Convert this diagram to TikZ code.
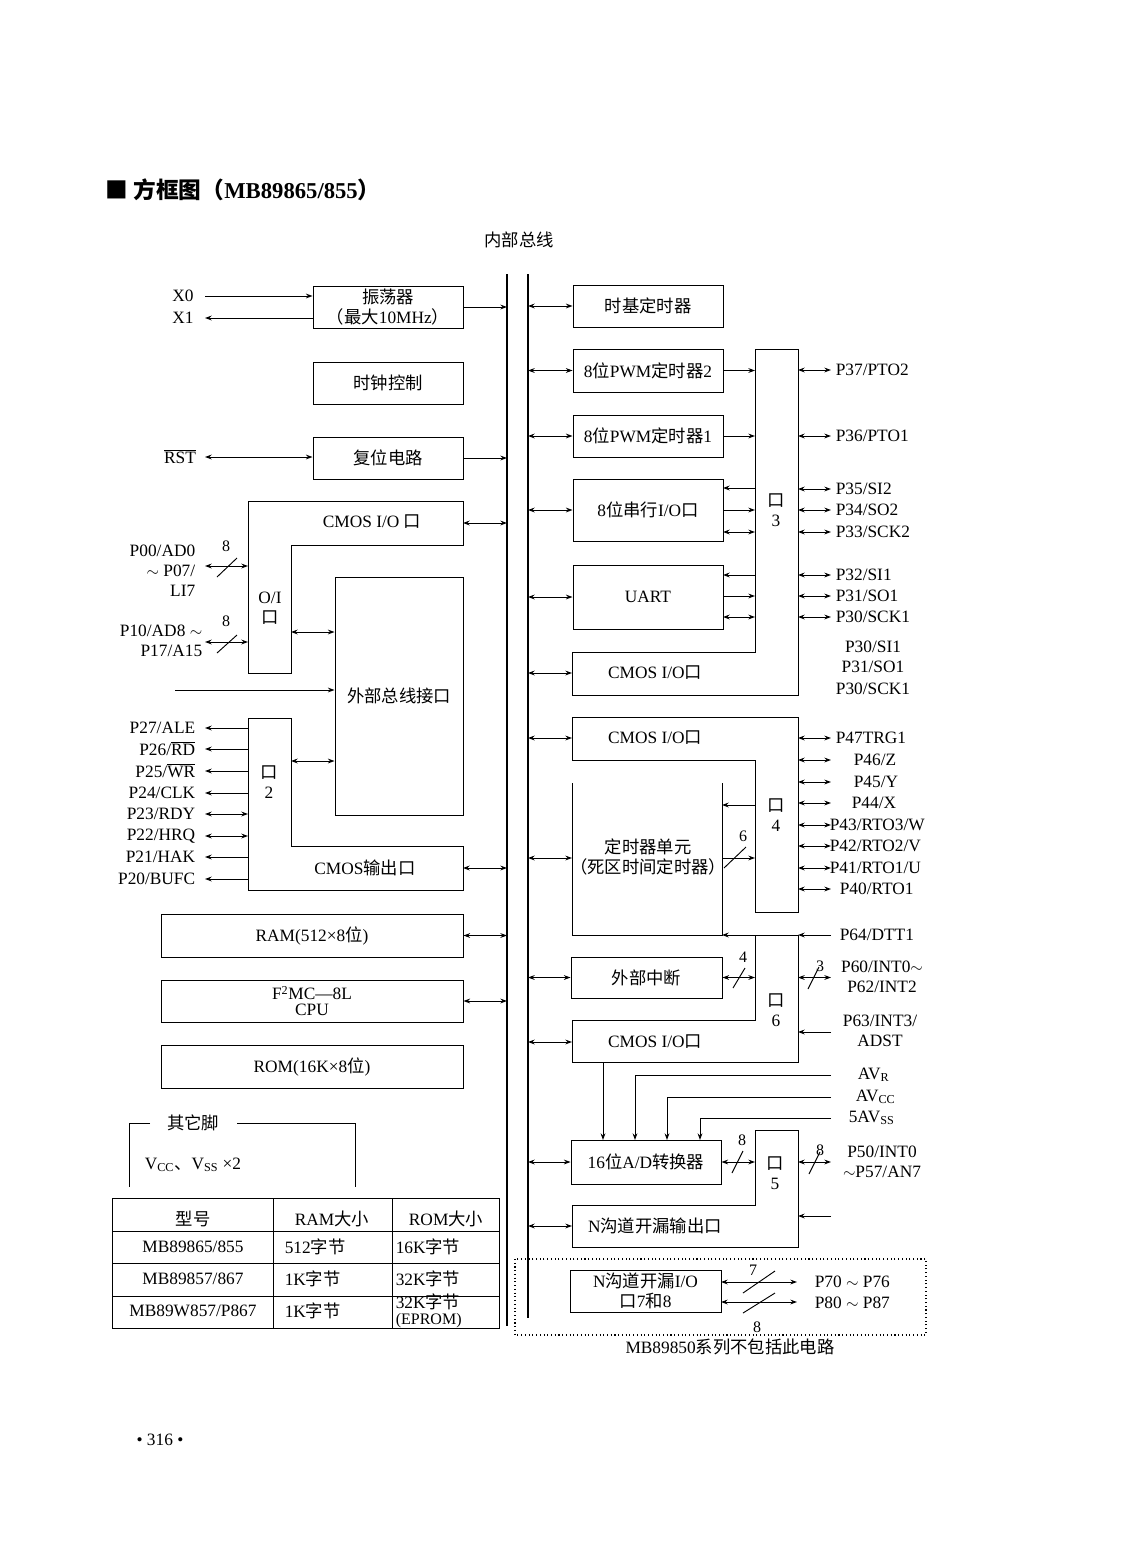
\documentclass[tikz,border=0pt]{standalone}
\usepackage{fontspec}
\setmainfont{Liberation Serif}
\newfontfamily\cjk{Noto Sans CJK SC}
\newcommand\zh[1]{{\cjk #1}}
\newcommand\fs{\fontsize{13pt}{15pt}\selectfont}
\usetikzlibrary{arrows.meta}
\begin{document}
\begin{tikzpicture}[x=0.75pt,y=-0.75pt,line width=0.7pt,
  >={Stealth[length=5pt,width=3.6pt]},
  every node/.style={inner sep=1pt,font=\fs,align=center},
  blk/.style 2 args={draw,inner sep=0pt,minimum width=#1*0.75pt,minimum height=#2*0.75pt,align=center},
  zhs/.style={font=\fs\cjk},
  rpin/.style={anchor=west},
  lpin/.style={anchor=east,align=right},
  bus/.style={line width=0.8pt},
  num/.style={font=\fontsize{12pt}{13pt}\selectfont,inner sep=0pt}
]
\useasboundingbox (0,0) rectangle (1122,1568);
% ---------- title ----------
\node[anchor=west,font=\fontsize{17pt}{20pt}\selectfont\bfseries] (title) at (104,190) {\zh{■ 方框图（}MB89865/855\zh{）}};
\node[zhs] (busname) at (519,240) {内部总线};
% ---------- internal bus ----------
\coordinate (busLt) at (507,274); \coordinate (busLb) at (507,1326);
\coordinate (busRt) at (528,274); \coordinate (busRb) at (528,1318);
\draw[bus] (busLt) -- (busLb);
\draw[bus] (busRt) -- (busRb);
\coordinate (lpE) at (205,0);
\coordinate (pinE) at (831,0);
% ---------- left column ----------
\node[blk={150}{42}] (osc) at (388,307) {\zh{振荡器}\\\zh{（最大}10MHz\zh{）}};
\node[blk={150}{42},zhs] (clk) at (388,383) {时钟控制};
\node[blk={150}{42},zhs] (rst) at (388,458) {复位电路};
\node (x0) at (183,296) {X0};
\node (x1) at (183,318) {X1};
\node (rstp) at (180,457) {$\overline{\mbox{RST}}$};
\draw[->] (x0.east -| lpE) -- (x0.east -| osc.west);
\draw[->] (x1.east -| osc.west) -- (x1.east -| lpE);
\draw[<->] (rstp.east -| lpE) -- (rstp.east -| rst.west);
\draw[->] (osc.east) -- (osc.east -| busLt);
\draw[->] (rst.east) -- (rst.east -| busLt);
% CMOS I/O + O/I port
\draw (248,501) -- (463,501) -- (463,545) -- (291,545) -- (291,673) -- (248,673) -- cycle;
\node (cio1) at (372,522) {CMOS I/O \zh{口}};
\node (oi) at (270,608) {O/I\\\zh{口}};
\coordinate (cio1R) at (463,523);
\draw[<->] (cio1R) -- (cio1R -| busLt);
\coordinate (oiL) at (248,0);
\node[lpin] (p0) at (197,571) {P00/AD0\\$\sim$ P07/\\LI7};
\coordinate (oiA) at (248,566);
\draw[<->] (oiA) -- (oiA -| lpE);
\draw (217,577) -- (237,558);
\node[num] (n8a) at (226,546) {8};
\node[lpin] (p1) at (204,641) {P10/AD8 $\sim$\\P17/A15};
\coordinate (oiB) at (248,642);
\draw[<->] (oiB) -- (oiB -| lpE);
\draw (217,653) -- (237,635);
\node[num] (n8b) at (226,621) {8};
% external bus interface
\node[blk={128}{238},zhs] (ebi) at (399,696) {外部总线接口};
\coordinate (oiR) at (291,632);
\draw[<->] (oiR) -- (oiR -| ebi.west);
\coordinate (extin) at (175,690);
\draw[->] (extin) -- (extin -| ebi.west);
% port 2 + CMOS output
\draw (248,718) -- (291,718) -- (291,846) -- (463,846) -- (463,890) -- (248,890) -- cycle;
\node (p2) at (269,782) {\zh{口}\\2};
\node (cout) at (365,868) {CMOS\zh{输出口}};
\coordinate (p2R) at (291,761);
\draw[<->] (p2R) -- (p2R -| ebi.west);
\coordinate (coutR) at (463,868);
\draw[<->] (coutR) -- (coutR -| busLt);
\coordinate (p2L) at (248,0);
\node[lpin] (p27) at (197,728) {P27/ALE};
\node[lpin] (p26) at (197,749) {P26/$\overline{\mbox{RD}}$};
\node[lpin] (p25) at (197,771) {P25/$\overline{\mbox{WR}}$};
\node[lpin] (p24) at (197,793) {P24/CLK};
\node[lpin] (p23) at (197,814) {P23/RDY};
\node[lpin] (p22) at (197,836) {P22/HRQ};
\node[lpin] (p21) at (197,857) {P21/HAK};
\node[lpin] (p20) at (197,879) {P20/BUFC};
\draw[->] (p27.east -| p2L) -- (p27.east -| lpE);
\draw[->] (p26.east -| p2L) -- (p26.east -| lpE);
\draw[->] (p25.east -| p2L) -- (p25.east -| lpE);
\draw[->] (p24.east -| p2L) -- (p24.east -| lpE);
\draw[<->] (p23.east -| p2L) -- (p23.east -| lpE);
\draw[<->] (p22.east -| p2L) -- (p22.east -| lpE);
\draw[->] (p21.east -| p2L) -- (p21.east -| lpE);
\draw[->] (p20.east -| p2L) -- (p20.east -| lpE);
% memories and CPU
\node[blk={302}{43}] (ram) at (312,935.5) {RAM(512×8\zh{位})};
\node[blk={302}{42}] (cpu) at (312,1001) {F\textsuperscript{2}MC—8L\\[-3pt]CPU};
\node[blk={302}{43}] (rom) at (312,1066.5) {ROM(16K×8\zh{位})};
\draw[<->] (ram.east) -- (ram.east -| busLt);
\draw[<->] (cpu.east) -- (cpu.east -| busLt);
% other pins
\node[zhs] (other) at (193,1123) {其它脚};
\draw (150,1123) -- (129,1123) -- (129,1187);
\draw (237,1123) -- (355,1123) -- (355,1187);
\node[anchor=west] (vcc) at (143,1165) {V\textsubscript{CC}\zh{、}V\textsubscript{SS} ×2};
% table
\draw (112,1198) rectangle (499,1328);
\draw (112,1231) -- (499,1231);
\draw (112,1263) -- (499,1263);
\draw (112,1296) -- (499,1296);
\draw (273,1198) -- (273,1328);
\draw (392,1198) -- (392,1328);
\node[zhs] (th1) at (193,1219) {型号};
\node (th2) at (332,1219) {RAM\zh{大小}};
\node (th3) at (446,1219) {ROM\zh{大小}};
\node (r1a) at (193,1247) {MB89865/855};
\node[anchor=west] (r1b) at (283,1247) {512\zh{字节}};
\node[anchor=west] (r1c) at (394,1247) {16K\zh{字节}};
\node (r2a) at (193,1279) {MB89857/867};
\node[anchor=west] (r2b) at (283,1279) {1K\zh{字节}};
\node[anchor=west] (r2c) at (394,1279) {32K\zh{字节}};
\node (r3a) at (193,1311) {MB89W857/P867};
\node[anchor=west] (r3b) at (283,1311) {1K\zh{字节}};
\node[anchor=west] (r3c) at (394,1302) {32K\zh{字节}};
\node[anchor=west,font=\fontsize{12pt}{13pt}\selectfont] (r3d) at (394,1321) {(EPROM)};
% ---------- right column ----------
\node[blk={150}{42},zhs] (tbt) at (648,306) {时基定时器};
\draw[<->] (tbt.west -| busRt) -- (tbt.west);
\node[blk={150}{43}] (pwm2) at (648,370.5) {8\zh{位}PWM\zh{定时器}2};
\node[blk={150}{42}] (pwm1) at (648,436) {8\zh{位}PWM\zh{定时器}1};
\node[blk={150}{62}] (sio) at (648,510) {8\zh{位串行}I/O\zh{口}};
\node[blk={150}{64}] (uart) at (648,597) {UART};
\draw[<->] (pwm2.west -| busRt) -- (pwm2.west);
\draw[<->] (pwm1.west -| busRt) -- (pwm1.west);
\draw[<->] (sio.west -| busRt) -- (sio.west);
\draw[<->] (uart.west -| busRt) -- (uart.west);
% port 3 + CMOS I/O
\draw (755,349) -- (798,349) -- (798,695) -- (572,695) -- (572,652) -- (755,652) -- cycle;
\node (p3) at (776,510) {\zh{口}\\3};
\node (cio3) at (655,673) {CMOS I/O\zh{口}};
\coordinate (p3L) at (755,0); \coordinate (p3R) at (798,0);
\coordinate (cio3L) at (572,673);
\draw[<->] (cio3L -| busRt) -- (cio3L);
\draw[->] (pwm2.east) -- (pwm2.east -| p3L);
\draw[->] (pwm1.east) -- (pwm1.east -| p3L);
\coordinate (sioA) at (723,488); \coordinate (sioC) at (723,532);
\draw[->] (sioA -| p3L) -- (sioA);
\draw[->] (sio.east) -- (sio.east -| p3L);
\draw[<->] (sioC) -- (sioC -| p3L);
\coordinate (uaA) at (723,575); \coordinate (uaB) at (723,596); \coordinate (uaC) at (723,617);
\draw[->] (uaA -| p3L) -- (uaA);
\draw[->] (uaB) -- (uaB -| p3L);
\draw[<->] (uaC) -- (uaC -| p3L);
\node[rpin] (p37) at (834,370) {P37/PTO2};
\node[rpin] (p36) at (834,436) {P36/PTO1};
\node[rpin] (p35) at (834,489) {P35/SI2};
\node[rpin] (p34) at (834,510) {P34/SO2};
\node[rpin] (p33) at (834,532) {P33/SCK2};
\node[rpin] (p32) at (834,575) {P32/SI1};
\node[rpin] (p31) at (834,596) {P31/SO1};
\node[rpin] (p30) at (834,617) {P30/SCK1};
\foreach \p in {p37,p36,p35,p34,p33,p32,p31,p30}
  \draw[<->] (\p.west -| p3R) -- (\p.west -| pinE);
\node (q1) at (873,647) {P30/SI1};
\node (q2) at (873,667) {P31/SO1};
\node (q3) at (873,689) {P30/SCK1};
% port 4 + CMOS I/O
\draw (572,717) -- (798,717) -- (798,912) -- (755,912) -- (755,760) -- (572,760) -- cycle;
\node (cio4) at (655,738) {CMOS I/O\zh{口}};
\node (p4) at (776,815) {\zh{口}\\4};
\coordinate (p4L) at (755,0); \coordinate (p4R) at (798,0);
\coordinate (cio4L) at (572,738);
\draw[<->] (cio4L -| busRt) -- (cio4L);
% timer unit
\draw (572,783) -- (572,935) -- (722,935) -- (722,783);
\node (tmr) at (648,857) {\zh{定时器单元}\\\zh{（死区时间定时器）}};
\coordinate (tmrL) at (572,858);
\draw[<->] (tmrL -| busRt) -- (tmrL);
\coordinate (tmrA) at (722,805); \coordinate (tmrB) at (722,858);
\draw[->] (tmrA -| p4L) -- (tmrA);
\draw[->] (tmrB) -- (tmrB -| p4L);
\draw (724,868) -- (746,847);
\node[num] (n6) at (743,836) {6};
\node[rpin] (p47) at (834,738) {P47TRG1};
\node[rpin] (p46) at (852,760) {P46/Z};
\node[rpin] (p45) at (852,782) {P45/Y};
\node[rpin] (p44) at (850,803) {P44/X};
\node[rpin] (p43) at (828,825) {P43/RTO3/W};
\node[rpin] (p42) at (828,846) {P42/RTO2/V};
\node[rpin] (p41) at (828,868) {P41/RTO1/U};
\node[rpin] (p40) at (838,889) {P40/RTO1};
\foreach \p in {p47,p46,p45,p44,p43,p42,p41,p40}
  \draw[<->] (\p.west -| p4R) -- (\p.west -| pinE);
% port 6 + CMOS I/O
\draw (755,935) -- (798,935) -- (798,1062) -- (572,1062) -- (572,1020) -- (755,1020) -- cycle;
\node (p6) at (776,1010) {\zh{口}\\6};
\node (cio6) at (655,1042) {CMOS I/O\zh{口}};
\coordinate (p6R) at (798,0);
\coordinate (p6TR) at (798,935); \coordinate (tmrBR) at (722,935);
\node[rpin] (p64) at (838,935) {P64/DTT1};
\draw[->] (p64.west -| pinE) -- (p6TR);
\draw[->] (p6TR) -- (tmrBR);
\node[blk={151}{41},zhs] (eint) at (646.5,977.5) {外部中断};
\draw[<->] (eint.west -| busRt) -- (eint.west);
\draw[<->] (eint.east) -- (eint.east -| p4L);
\draw (733,988) -- (745,968);
\node[num] (n4) at (743,957) {4};
\node (p60) at (882,977) {P60/INT0$\sim$\\P62/INT2};
\draw[<->] (eint.east -| p6R) -- (eint.east -| pinE);
\draw (808,989) -- (819,967);
\node[num] (n3) at (820,966) {3};
\node (p63) at (880,1031) {P63/INT3/\\ADST};
\coordinate (p63a) at (831,1032);
\draw[->] (p63a) -- (p63a -| p6R);
\coordinate (cio6L) at (572,1042);
\draw[<->] (cio6L -| busRt) -- (cio6L);
% A/D converter
\node[blk={150}{44}] (adc) at (646,1162) {16\zh{位}A/D\zh{转换器}};
\draw[<->] (adc.west -| busRt) -- (adc.west);
\node[anchor=west] (avr) at (856,1075) {AV\textsubscript{R}};
\node[anchor=west] (avcc) at (854,1097) {AV\textsubscript{CC}};
\node[anchor=west] (avss) at (847,1118) {5AV\textsubscript{SS}};
\coordinate (adcA) at (635,1140); \coordinate (adcB) at (667,1140);
\coordinate (adcC) at (700,1140); \coordinate (adcD) at (603,1140);
\coordinate (cio6B) at (603,1062);
\draw[->] (avr.west -| pinE) -| (adcA);
\draw[->] (avcc.west -| pinE) -| (adcB);
\draw[->] (avss.west -| pinE) -| (adcC);
\draw[->] (cio6B) -- (adcD);
% port 5 + N-channel output
\draw (755,1130) -- (798,1130) -- (798,1247) -- (572,1247) -- (572,1205) -- (755,1205) -- cycle;
\node (p5) at (775,1173) {\zh{口}\\5};
\node (nout) at (655,1226) {N\zh{沟道开漏输出口}};
\coordinate (p5L) at (755,0); \coordinate (p5R) at (798,0);
\draw[<->] (adc.east) -- (adc.east -| p5L);
\draw (732,1173) -- (743,1151);
\node[num] (n8c) at (742,1140) {8};
\node (p50) at (882,1162) {P50/INT0\\$\sim$P57/AN7};
\draw[<->] (adc.east -| p5R) -- (adc.east -| pinE);
\draw (809,1174) -- (820,1152);
\node[num] (n8d) at (820,1150) {8};
\coordinate (p5in) at (831,1216);
\draw[->] (p5in) -- (p5in -| p5R);
\coordinate (noutL) at (572,1226);
\draw[<->] (noutL -| busRt) -- (noutL);
% port 7/8 (not in MB89850)
\draw[dotted,line width=0.8pt] (515,1259) rectangle (926,1335);
\node[blk={151}{42}] (n78) at (645.5,1291) {N\zh{沟道开漏}I/O\\\zh{口}7\zh{和}8};
\coordinate (n7e) at (797,0);
\coordinate (n78a) at (721,1282); \coordinate (n78b) at (721,1302);
\draw[<->] (n78a) -- (n78a -| n7e);
\draw[<->] (n78b) -- (n78b -| n7e);
\draw (743,1293) -- (775,1271);
\draw (743,1313) -- (775,1293);
\node[num] (n7) at (753,1270) {7};
\node[num] (n8e) at (757,1327) {8};
\node[anchor=west] (p70) at (813,1282) {P70 $\sim$ P76};
\node[anchor=west] (p80) at (813,1303) {P80 $\sim$ P87};
\node (note) at (730,1347) {MB89850\zh{系列不包括此电路}};
% page number
\node (page) at (160,1440) {• 316 •};
\end{tikzpicture}
\end{document}
